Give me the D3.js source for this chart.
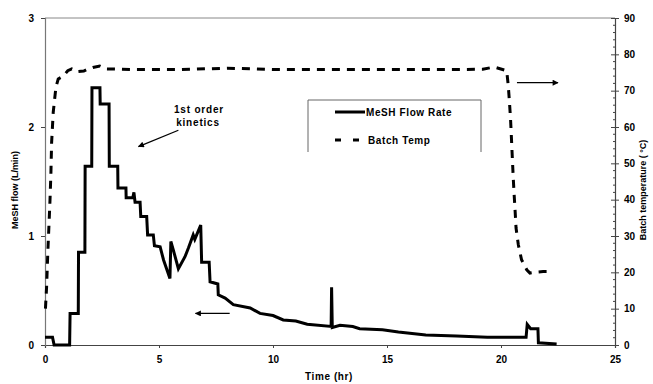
<!DOCTYPE html>
<html>
<head>
<meta charset="utf-8">
<script src="https://cdn.jsdelivr.net/npm/d3@7"></script>
<style>
  body { margin: 0; background: #fff; }
  text { font-family: "Liberation Sans", Arial, sans-serif; font-weight: bold; fill: #000; }
</style>
</head>
<body>
<svg width="653" height="384"></svg>
<script>
// MeSH flow rate (L/min) vs time (hr), left axis
const flowTime = [0, 0.33, 0.4, 1.08, 1.1, 1.46, 1.47, 1.75, 1.76, 2.05, 2.06, 2.41, 2.42, 2.81, 2.82, 3.19, 3.2, 3.55, 3.56, 3.85, 3.9, 3.95, 4.17, 4.2, 4.46, 4.5, 4.75, 4.8, 5.05, 5.2, 5.48, 5.52, 5.63, 5.85, 6.14, 6.29, 6.5, 6.57, 6.83, 6.87, 7.2, 7.24, 7.58, 7.6, 7.9, 8.26, 9.0, 9.43, 10.0, 10.45, 11.0, 11.5, 12.55, 12.57, 12.6, 12.94, 13.5, 13.8, 14.8, 15.5, 16.7, 18.05, 19.4, 21.1, 21.15, 21.3, 21.62, 21.64, 22.44];
const flowRate = [0.07, 0.07, 0, 0, 0.29, 0.29, 0.85, 0.85, 1.64, 1.64, 2.36, 2.36, 2.21, 2.21, 1.64, 1.64, 1.44, 1.44, 1.35, 1.35, 1.4, 1.31, 1.31, 1.18, 1.18, 1.01, 1.01, 0.91, 0.9, 0.78, 0.61, 0.95, 0.87, 0.7, 0.81, 0.89, 1.01, 0.97, 1.1, 0.76, 0.76, 0.58, 0.56, 0.46, 0.43, 0.37, 0.34, 0.29, 0.27, 0.23, 0.22, 0.19, 0.17, 0.53, 0.16, 0.18, 0.17, 0.15, 0.14, 0.12, 0.092, 0.083, 0.07, 0.07, 0.19, 0.15, 0.15, 0.02, 0.01];

// batch temperature (°C) vs time (hr), right axis
const tempTime = [0.02, 0.07, 0.12, 0.19, 0.22, 0.26, 0.29, 0.36, 0.48, 0.58, 0.8, 1.0, 1.17, 1.39, 1.7, 1.9, 2.1, 2.4, 2.7, 4, 6, 8, 10, 12, 14, 16, 18, 19.2, 19.7, 20.25, 20.32, 20.37, 20.42, 20.45, 20.48, 20.51, 20.54, 20.58, 20.62, 20.66, 20.76, 20.9, 21.13, 21.27, 21.5, 21.85, 22.0];
const tempVal = [10, 16, 25, 35.4, 40, 47.5, 55.7, 64, 71, 73.2, 74, 75.5, 76, 75.2, 75.4, 76, 76.4, 76.8, 76, 75.8, 75.8, 76.2, 75.8, 75.8, 75.8, 75.8, 75.8, 75.9, 76.5, 75.5, 71.3, 67, 62, 58, 53.8, 49.7, 45.6, 41, 36.8, 32.2, 27.6, 23.5, 20.7, 19.8, 20, 20.2, 20.2];

const xTicks = [0, 5, 10, 15, 20, 25];
const yLeftTicks = [0, 1, 2, 3];
const yRightTicks = [0, 10, 20, 30, 40, 50, 60, 70, 80, 90];
const legendNames = ["MeSH Flow Rate", "Batch Temp"];

const svg = d3.select("svg");
const mLeft = 45, mRight = 615, mTop = 18, mBottom = 345;

const x = d3.scaleLinear().domain([0, 25]).range([mLeft, mRight]);
const yL = d3.scaleLinear().domain([0, 3]).range([mBottom, mTop]);
const yR = d3.scaleLinear().domain([0, 90]).range([mBottom, mTop]);

// top border of plot area
svg.append("line")
    .attr("x1", mLeft).attr("x2", mRight).attr("y1", mTop).attr("y2", mTop)
    .attr("stroke", "#888").attr("stroke-width", 1);

const fontSize = "10px";

// bottom axis
const gx = svg.append("g").attr("transform", `translate(0,${mBottom})`)
    .call(d3.axisBottom(x).tickValues(xTicks).tickSize(3).tickPadding(8).tickFormat(d3.format("d")));
// left axis
const gl = svg.append("g").attr("transform", `translate(${mLeft},0)`)
    .call(d3.axisLeft(yL).tickValues(yLeftTicks).tickSize(4).tickPadding(7).tickFormat(d3.format("d")));
// right axis
const gr = svg.append("g").attr("transform", `translate(${mRight},0)`)
    .call(d3.axisRight(yR).tickValues(yRightTicks).tickSize(4).tickPadding(5).tickFormat(d3.format("d")));
gr.selectAll(".tick line").attr("x1", -4);

// minor ticks on right axis
svg.append("g").selectAll("line")
    .data(d3.range(0, 91, 2).filter(d => d % 10 !== 0))
    .join("line")
    .attr("x1", mRight - 2).attr("x2", mRight)
    .attr("y1", d => yR(d)).attr("y2", d => yR(d))
    .attr("stroke", "#444");

[gx, gl, gr].forEach(g => {
    g.select(".domain").attr("stroke", "#444").attr("stroke-width", 1.2);
    g.selectAll(".tick line").attr("stroke", "#444");
    g.selectAll(".tick text").style("font-size", fontSize).style("font-weight", "bold")
        .style("font-family", "'Liberation Sans', Arial, sans-serif");
});
gl.select(".domain").attr("stroke", "#777");

// series
const flowLine = d3.line().x((d, i) => x(flowTime[i])).y(d => yL(d));
svg.append("path")
    .datum(flowRate)
    .attr("d", flowLine)
    .attr("fill", "none").attr("stroke", "#000").attr("stroke-width", 3)
    .attr("stroke-linejoin", "miter");

const tempLine = d3.line().x((d, i) => x(tempTime[i])).y(d => yR(d));
svg.append("path")
    .datum(tempVal)
    .attr("d", tempLine)
    .attr("fill", "none").attr("stroke", "#000").attr("stroke-width", 3)
    .attr("stroke-dasharray", "8,7");

// arrow marker
svg.append("defs").append("marker")
    .attr("id", "ah").attr("viewBox", "0 0 10 10")
    .attr("refX", 9).attr("refY", 5)
    .attr("markerWidth", 7).attr("markerHeight", 6)
    .attr("markerUnits", "userSpaceOnUse")
    .attr("orient", "auto")
    .append("path").attr("d", "M0,0 L10,5 L0,10 z").attr("fill", "#000");

function arrow(t1, v1, t2, v2, sc) {
    svg.append("line")
        .attr("x1", x(t1)).attr("y1", sc(v1)).attr("x2", x(t2)).attr("y2", sc(v2))
        .attr("stroke", "#000").attr("stroke-width", 1.3)
        .attr("marker-end", "url(#ah)");
}
arrow(5.85, 1.97, 4.1, 1.82, yL);   // 1st order kinetics
arrow(8.1, 0.29, 6.6, 0.29, yL);    // flow -> left axis
arrow(20.7, 72.2, 22.5, 72.2, yR);  // temp -> right axis

svg.append("text").attr("x", 199).attr("y", 113)
    .attr("text-anchor", "middle").style("font-size", fontSize).style("letter-spacing", "0.8px")
    .text("1st order");
svg.append("text").attr("x", 198).attr("y", 126)
    .attr("text-anchor", "middle").style("font-size", fontSize).style("letter-spacing", "0.8px")
    .text("kinetics");

// legend (box open at the bottom, as in the original)
svg.append("path")
    .attr("d", "M308,152 V100 H481 V152")
    .attr("fill", "none").attr("stroke", "#666").attr("stroke-width", 1);
const lg = svg.append("g");
lg.append("line").attr("x1", 335).attr("x2", 365).attr("y1", 112).attr("y2", 112)
    .attr("stroke", "#000").attr("stroke-width", 3);
lg.append("line").attr("x1", 335).attr("x2", 360).attr("y1", 140).attr("y2", 140)
    .attr("stroke", "#000").attr("stroke-width", 3).attr("stroke-dasharray", "6,12");
lg.selectAll("text").data(legendNames).join("text")
    .attr("x", (d, i) => i === 0 ? 366 : 368)
    .attr("y", (d, i) => i === 0 ? 116 : 144)
    .style("font-size", fontSize).style("letter-spacing", "0.6px")
    .text(d => d);

// axis titles
svg.append("text").attr("x", 329).attr("y", 380).attr("text-anchor", "middle")
    .style("font-size", fontSize).style("letter-spacing", "0.6px").text("Time (hr)");
svg.append("text").attr("transform", "translate(18,190) rotate(-90)").attr("text-anchor", "middle")
    .style("font-size", "9px").text("MeSH flow (L/min)");
svg.append("text").attr("transform", "translate(646,190) rotate(-90)").attr("text-anchor", "middle")
    .style("font-size", "9px").text("Batch temperature ( °C)");
</script>
</body>
</html>
